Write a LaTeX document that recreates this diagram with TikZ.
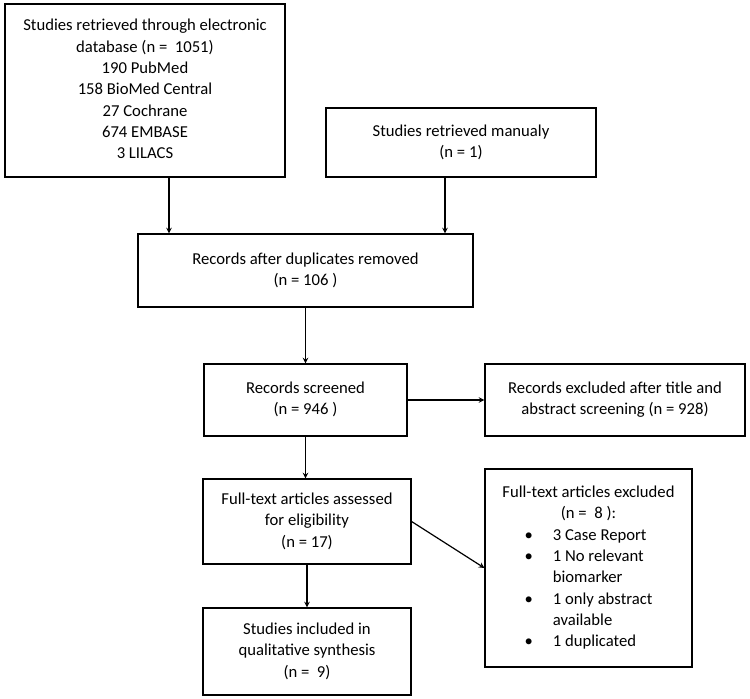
\documentclass[tikz,border=0pt]{standalone}
\usepackage{fontspec}
\setmainfont{Carlito}
\usepackage{tikz}

\begin{document}
\begin{tikzpicture}[x=0.75pt, y=-0.75pt,
  box/.style={draw, line width=0.9pt, inner sep=0pt, font=\fontsize{12.5}{16}\selectfont},
  arr/.style={->, >=stealth, line width=0.9pt}]
\useasboundingbox (0,0) rectangle (750,699);

% Identification
\node[box, minimum width=210pt, minimum height=129.75pt] (dbbox) at (145,90.5) {
\begin{tabular}{c}
        Studies retrieved through electronic\\
        database (n =\ \ 1051)\\
        190 PubMed\\
        158 BioMed Central\\
        27 Cochrane\\
        674 EMBASE\\
        3 LILACS
    \end{tabular}
};

\node[box, minimum width=202.5pt, minimum height=51.75pt] (manbox) at (461,142.5) {
\begin{tabular}{c}
        Studies retrieved manualy\\
        (n = 1)
    \end{tabular}
};

% Duplicates
\node[box, minimum width=251.25pt, minimum height=54.75pt] (dupbox) at (305.5,270.5) {
\begin{tabular}{c}
        Records after duplicates removed\\
        (n = 106\ )
    \end{tabular}
};

% Screening
\node[box, minimum width=152.25pt, minimum height=54pt] (scrbox) at (305.5,400) {
\begin{tabular}{c}
        Records screened\\
        (n = 946\ )
    \end{tabular}
};

\node[box, minimum width=195pt, minimum height=54pt] (exclbox) at (615,400) {
\begin{tabular}{c}
        Records excluded after title and\\
        abstract screening (n = 928)
    \end{tabular}
};

% Eligibility
\node[box, minimum width=156pt, minimum height=63.75pt] (fullbox) at (307,521.5) {
\begin{tabular}{c}
        Full-text articles assessed\\
        for eligibility\\
        (n = 17)
    \end{tabular}
};

\node[box, minimum width=155.25pt, minimum height=148.5pt] (fexbox) at (588.5,568) {
\begin{tabular}{c}
        Full-text articles excluded\\
        (n =\ \ 8 ):\\
        \begin{tabular}{@{}c@{\hspace{15pt}}l@{}}
            \textbullet & 3 Case Report\\
            \textbullet & 1 No relevant\\
                        & biomarker\\
            \textbullet & 1 only abstract\\
                        & available\\
            \textbullet & 1 duplicated
        \end{tabular}
    \end{tabular}
};

% Included
\node[box, minimum width=156pt, minimum height=65.25pt] (inclbox) at (307,651.5) {
\begin{tabular}{c}
        Studies included in\\
        qualitative synthesis\\
        (n =\ \ 9)
    \end{tabular}
};

% Arrows
\draw[arr] ([xshift=18pt]dbbox.south) -- ([xshift=18pt]dbbox.south |- dupbox.north);
\draw[arr] ([xshift=-12pt]manbox.south) -- ([xshift=-12pt]manbox.south |- dupbox.north);
\draw[arr] (dupbox.south) -- (scrbox.north);
\draw[arr] (scrbox.east) -- (exclbox.west);
\draw[arr] (scrbox.south) -- (scrbox.south |- fullbox.north);
\draw[arr] (fullbox.east) -- (fexbox.west);
\draw[arr] (fullbox.south) -- (inclbox.north);
\end{tikzpicture}
\end{document}
